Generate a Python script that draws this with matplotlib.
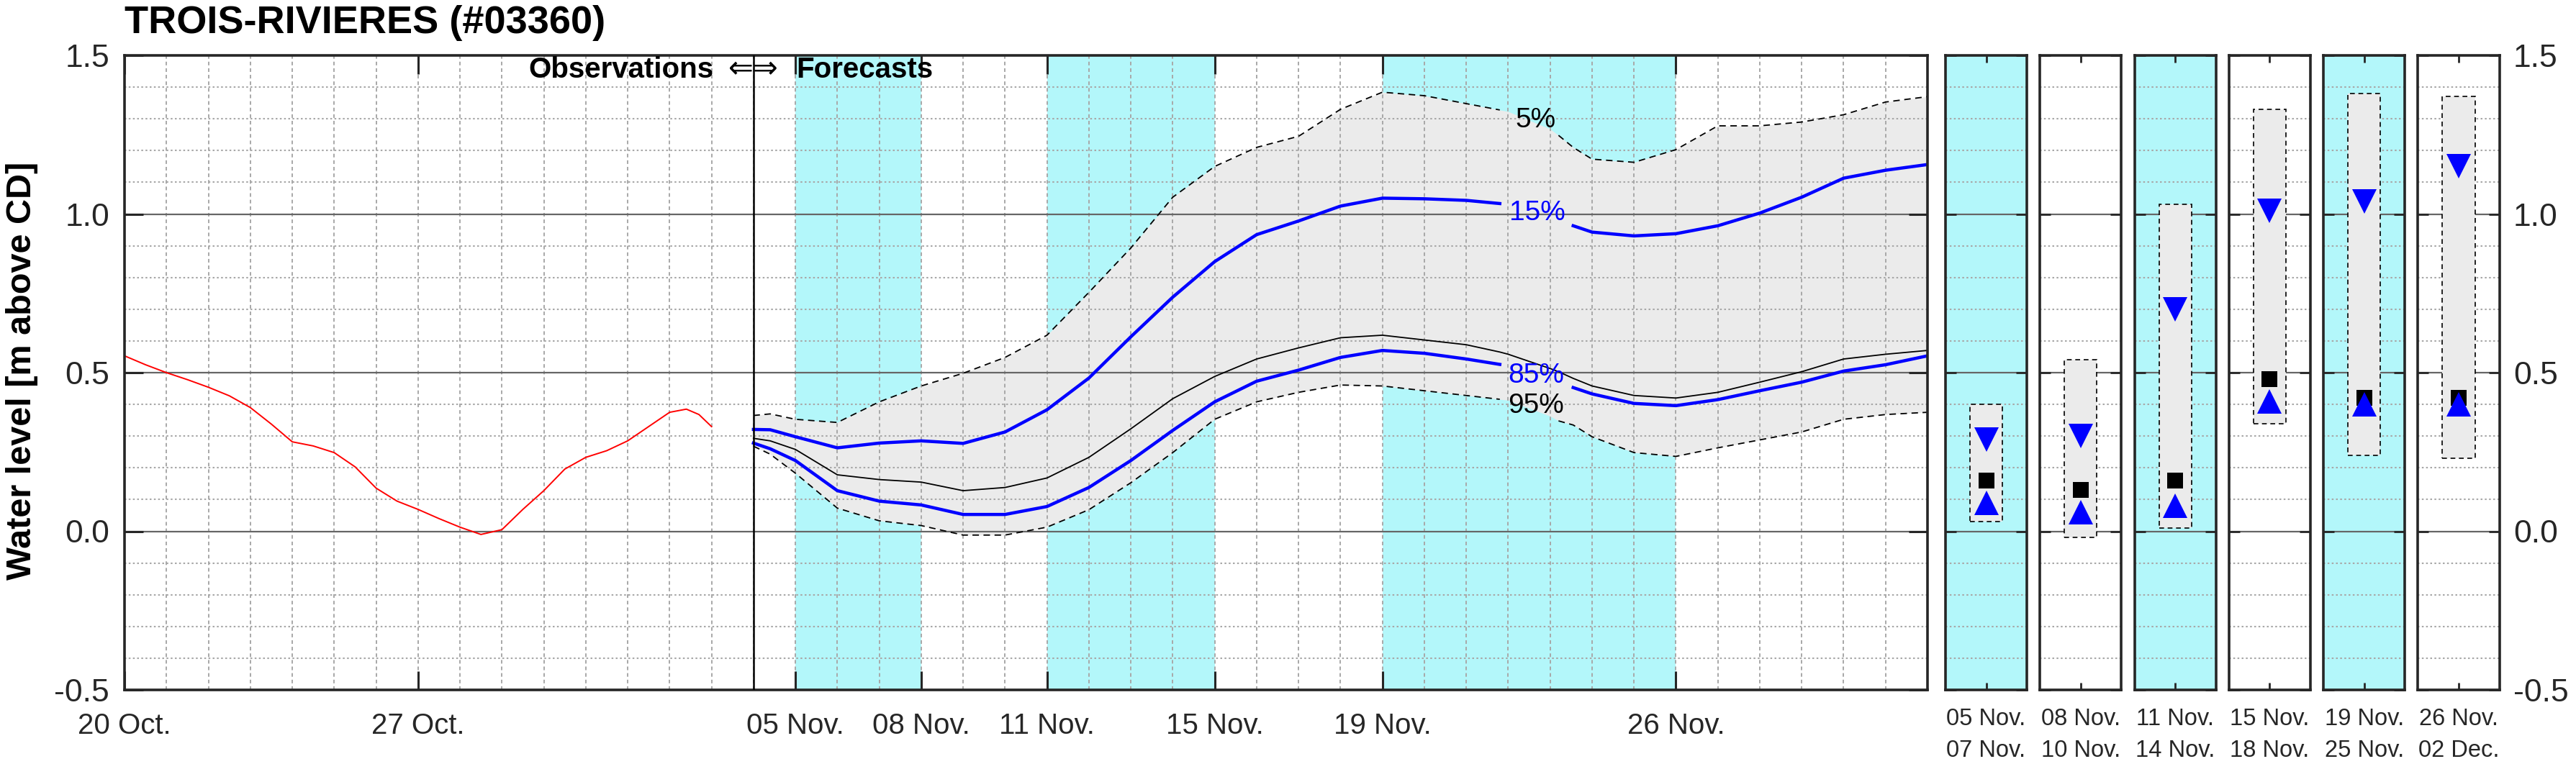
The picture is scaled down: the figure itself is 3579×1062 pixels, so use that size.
import numpy as np
import matplotlib
matplotlib.use('Agg')
import matplotlib.pyplot as plt
from matplotlib.ticker import MultipleLocator

plt.rcParams['font.family'] = ['Liberation Sans', 'DejaVu Sans']

# time axis: days since 20 Oct.
obs_days = [0, 0.5, 1, 1.5, 2, 2.5, 3, 3.5, 4, 4.5, 5, 5.5, 6, 6.5, 7,
            7.5, 8, 8.5, 9, 9.5, 10, 10.5, 11, 11.5, 12, 12.5, 13, 13.4, 13.7, 14]
obs_level = [0.553, 0.525, 0.500, 0.478, 0.454, 0.427, 0.390, 0.338, 0.282, 0.269,
             0.248, 0.203, 0.136, 0.095, 0.069, 0.040, 0.013, -0.010, 0.005, 0.069,
             0.128, 0.196, 0.233, 0.254, 0.285, 0.330, 0.375, 0.385, 0.368, 0.330]

fc_days = [15, 15.4, 16, 17, 18, 19, 20, 21, 22, 23, 24, 25, 26, 27, 28, 29, 30,
           31, 32, 32.8, 33, 34, 34.2, 34.55, 35, 36, 37, 38, 39, 40, 41, 42, 43]
p05 = [0.365, 0.370, 0.353, 0.343, 0.408, 0.458, 0.498, 0.548, 0.618, 0.753, 0.893,
       1.053, 1.150, 1.210, 1.245, 1.330, 1.384, 1.373, 1.348, 1.328, 1.323, 1.268,
       1.248, 1.210, 1.173, 1.163, 1.203, 1.278, 1.278, 1.290, 1.313, 1.353, 1.370]
p15 = [0.321, 0.320, 0.298, 0.263, 0.278, 0.285, 0.277, 0.313, 0.383, 0.483, 0.613,
       0.738, 0.850, 0.935, 0.978, 1.025, 1.050, 1.048, 1.043, 1.033, 1.025, 0.985,
       0.978, 0.963, 0.943, 0.931, 0.938, 0.963, 1.003, 1.053, 1.113, 1.138, 1.156]
p50 = [0.293, 0.285, 0.258, 0.178, 0.163, 0.155, 0.128, 0.138, 0.168, 0.233, 0.323,
       0.418, 0.488, 0.543, 0.578, 0.610, 0.618, 0.603, 0.588, 0.565, 0.558, 0.513,
       0.503, 0.482, 0.458, 0.428, 0.420, 0.438, 0.470, 0.503, 0.543, 0.558, 0.570]
p85 = [0.278, 0.260, 0.223, 0.128, 0.095, 0.083, 0.053, 0.053, 0.078, 0.138, 0.223,
       0.318, 0.408, 0.473, 0.508, 0.548, 0.570, 0.561, 0.543, 0.526, 0.520, 0.490,
       0.475, 0.453, 0.433, 0.403, 0.396, 0.415, 0.443, 0.470, 0.505, 0.525, 0.553]
p95 = [0.268, 0.243, 0.183, 0.073, 0.033, 0.018, -0.012, -0.012, 0.013, 0.068, 0.153,
       0.248, 0.353, 0.408, 0.438, 0.461, 0.458, 0.443, 0.428, 0.416, 0.413, 0.363,
       0.348, 0.335, 0.298, 0.248, 0.236, 0.263, 0.288, 0.313, 0.353, 0.368, 0.375]

tick_days = [0, 7, 16, 19, 22, 26, 30, 37]
tick_labels = ['20 Oct.', '27 Oct.', '05 Nov.', '08 Nov.', '11 Nov.',
               '15 Nov.', '19 Nov.', '26 Nov.']
y_ticks = [-0.5, 0.0, 0.5, 1.0, 1.5]
y_tick_labels = ['-0.5', '0.0', '0.5', '1.0', '1.5']
forecast_start = 15
shade_start = [16, 22, 30]
shade_end = [19, 26, 37]

# summary panels, one per forecast period
period_from = ['05 Nov.', '08 Nov.', '11 Nov.', '15 Nov.', '19 Nov.', '26 Nov.']
period_to = ['07 Nov.', '10 Nov.', '14 Nov.', '18 Nov.', '25 Nov.', '02 Dec.']
box_hi = [0.40, 0.54, 1.03, 1.33, 1.38, 1.37]
box_lo = [0.03, -0.02, 0.01, 0.34, 0.24, 0.23]
tri_down = [0.29, 0.30, 0.70, 1.01, 1.04, 1.15]
square = [0.16, 0.13, 0.16, 0.48, 0.42, 0.42]
tri_up = [0.09, 0.06, 0.08, 0.41, 0.40, 0.40]
panel_shaded = [True, False, True, False, True, False]

CYAN = '#b3f7fa'
BAND = '#ebebeb'
AXC = '#262626'
GRID = '#a8a8a8'
MAJ = '#666666'
W, H = 3580, 1062


def style_y(ax):
    ax.set_ylim(-0.5, 1.5)
    ax.set_yticks(y_ticks, y_tick_labels)
    ax.yaxis.set_minor_locator(MultipleLocator(0.1))
    ax.grid(which='minor', axis='y', color=GRID, lw=1.5, ls=(0, (1.2, 1.6)))
    ax.grid(which='major', axis='y', color=MAJ, lw=1.6, ls='-')
    ax.set_axisbelow('line')
    for s in ax.spines.values():
        s.set_linewidth(2.6)
        s.set_color(AXC)
    ax.tick_params(which='minor', length=0)


def cut(vals, lo, hi):
    # leave a gap in the line where the percentile label sits
    x = np.array(fc_days)
    y = np.array(vals, dtype=float)
    y[(x > lo) & (x < hi)] = np.nan
    return y


fig = plt.figure(figsize=(W / 100, H / 100), dpi=100)
ax = fig.add_axes([173 / W, 103 / H, 2505 / W, 882 / H])

for s, e in zip(shade_start, shade_end):
    ax.axvspan(s, e, color=CYAN, lw=0, zorder=0.5)
ax.fill_between(fc_days, p95, p05, color=BAND, lw=0, zorder=0.8)

ax.plot(obs_days, obs_level, color='red', lw=1.4, zorder=2)
ax.plot(fc_days, cut(p05, 32.8, 34.2), color='k', lw=1.3, ls=(0, (5, 3.5)), zorder=2)
ax.plot(fc_days, cut(p95, 32.8, 34.2), color='k', lw=1.3, ls=(0, (5, 3.5)), zorder=2)
ax.plot(fc_days, p50, color='k', lw=1.3, zorder=2)
ax.plot(fc_days, cut(p15, 32.8, 34.55), color='blue', lw=3.2, zorder=2.2)
ax.plot(fc_days, cut(p85, 32.8, 34.55), color='blue', lw=3.2, zorder=2.2)
ax.axvline(forecast_start, color='k', lw=1.8, zorder=3)

ax.text(33.65, 1.295, '5%', color='k', ha='center', va='center', fontsize=28)
ax.text(33.69, 1.003, '15%', color='blue', ha='center', va='center', fontsize=28)
ax.text(33.66, 0.491, '85%', color='blue', ha='center', va='center', fontsize=28)
ax.text(33.66, 0.395, '95%', color='k', ha='center', va='center', fontsize=28)

ax.text(forecast_start - 0.95, 1.43, 'Observations', ha='right', va='baseline',
        fontsize=29, fontweight='bold')
ax.text(forecast_start, 1.43, '\u21d0\u21d2', ha='center', va='baseline',
        fontsize=30, family='DejaVu Sans')
ax.text(forecast_start + 1.02, 1.43, 'Forecasts', ha='left', va='baseline',
        fontsize=29, fontweight='bold')

ax.set_xlim(0, 43)
ax.set_xticks(tick_days, tick_labels)
ax.xaxis.set_minor_locator(MultipleLocator(1))
ax.grid(which='both', axis='x', color=GRID, lw=1.4, ls=(0, (2.6, 2.1)))
style_y(ax)
ax.tick_params(axis='x', which='major', direction='in', length=19, width=2.2,
               top=True, bottom=True, pad=22, labelsize=29, colors=AXC)
ax.tick_params(axis='y', which='major', direction='in', length=19, width=2.2,
               left=True, right=True, pad=15, labelsize=32, colors=AXC)

for i in range(len(period_from)):
    pax = fig.add_axes([(2703 + i * 131.3) / W, 103 / H, 113 / W, 882 / H])
    if panel_shaded[i]:
        pax.set_facecolor(CYAN)
    pax.bar(0.5, box_hi[i] - box_lo[i], bottom=box_lo[i], width=0.4, color=BAND,
            edgecolor='k', lw=1.2, ls=(0, (4, 3)), zorder=2)
    pax.plot(0.5, tri_down[i], 'v', color='blue', ms=25, mew=0, zorder=3)
    pax.plot(0.5, square[i], 's', color='k', ms=16, mew=0, zorder=3)
    pax.plot(0.5, tri_up[i], '^', color='blue', ms=25, mew=0, zorder=3)
    pax.set_xlim(0, 1)
    pax.set_xticks([0.5], [period_from[i] + '\n' + period_to[i]])
    style_y(pax)
    pax.tick_params(axis='x', which='major', direction='in', length=7, width=2.0,
                    top=True, bottom=True, pad=18, labelsize=23.5, colors=AXC)
    pax.tick_params(axis='y', which='major', direction='in', length=11, width=2.0,
                    left=True, right=True, labelleft=False, pad=14, labelsize=32,
                    colors=AXC)
    for t in pax.get_xticklabels():
        t.set_linespacing(1.55)
    if i == len(period_from) - 1:
        pax.tick_params(axis='y', labelright=True)

fig.text(173 / W, 1 - 46 / H, 'TROIS-RIVIERES (#03360)', fontsize=39,
         fontweight='bold', ha='left', va='baseline')
fig.text(31 / W, 1 - 515 / H, 'Water level [m above CD]', fontsize=35,
         fontweight='bold', rotation=90, ha='center', va='center')

fig.savefig('out.png', dpi=100)
